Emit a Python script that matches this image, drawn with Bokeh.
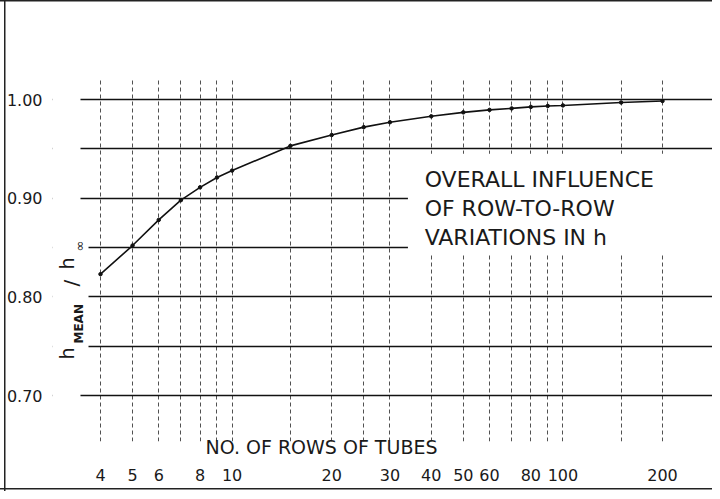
import numpy as np
from bokeh.plotting import figure
from bokeh.models import FixedTicker, Title, Label, BoxAnnotation, Range1d
from bokeh.embed import file_html
from bokeh.resources import INLINE

# ---- data ----
rows = [4, 5, 6, 7, 8, 9, 10, 15, 20, 25, 30, 40, 50, 60, 70, 80, 90, 100, 150, 200]
h_ratio = [0.823, 0.852, 0.878, 0.898, 0.911, 0.921, 0.928, 0.953, 0.964, 0.972,
           0.977, 0.983, 0.987, 0.9895, 0.991, 0.9925, 0.9935, 0.994, 0.997, 0.9985]

x_grid_values = [4, 5, 6, 7, 8, 9, 10, 15, 20, 25, 30, 40, 50, 60, 70, 80, 90, 100, 150, 200]
x_tick_values = [4, 5, 6, 8, 10, 20, 30, 40, 50, 60, 80, 100, 200]
x_tick_labels = ["4", "5", "6", "8", "10", "20", "30", "40", "50", "60", "80", "100", "200"]

y_grid_values = [0.70, 0.75, 0.80, 0.85, 0.90, 0.95, 1.00]
y_tick_values = [0.70, 0.80, 0.90, 1.00]
y_tick_labels = ["0.70", "0.80", "0.90", "1.00"]

note_lines = ["OVERALL INFLUENCE", "OF ROW-TO-ROW", "VARIATIONS IN h"]
x_title = "NO. OF ROWS OF TUBES"

FONT = "DejaVu Sans"
INK = "#1a1a1a"

p = figure(width=712, height=491, x_axis_type="log",
           x_range=Range1d(2.864, 283.3), y_range=Range1d(0.6534, 1.0213),
           output_backend="svg", toolbar_location=None,
           min_border_left=52, min_border_right=0, min_border_top=78, min_border_bottom=50)

p.outline_line_color = None
p.background_fill_color = None
p.border_fill_color = None
p.styles = {
    "background": (
        "linear-gradient(#222,#222) left 4px top 0 / 1.5px 100% no-repeat, "
        "linear-gradient(#222,#222) left 0 top 0 / 100% 1.5px no-repeat, "
        "linear-gradient(#222,#222) left 0 bottom 2px / 100% 1.5px no-repeat"
    )
}

# grids
p.xgrid.ticker = FixedTicker(ticks=x_grid_values)
p.xgrid.grid_line_color = "#333333"
p.xgrid.grid_line_width = 1
p.xgrid.grid_line_dash = "4 3"
p.xgrid.grid_line_alpha = 0.85
p.ygrid.ticker = FixedTicker(ticks=y_grid_values)
p.ygrid.grid_line_color = "#111111"
p.ygrid.grid_line_width = 1.6

# axes
xa = p.xaxis[0]
xa.ticker = FixedTicker(ticks=x_tick_values)
xa.major_label_overrides = dict(zip(x_tick_values, x_tick_labels))
ya = p.yaxis[0]
ya.ticker = FixedTicker(ticks=y_tick_values)
ya.major_label_overrides = dict(zip(y_tick_values, y_tick_labels))
for ax in (xa, ya):
    ax.axis_line_color = None
    ax.major_tick_line_color = None
    ax.minor_tick_line_color = None
    ax.major_label_text_font = FONT
    ax.major_label_text_font_size = "16px"
    ax.major_label_text_color = INK
ya.major_label_standoff = 4
xa.major_label_standoff = 13

xt = Title(text=x_title, align="left", offset=153, text_font=FONT,
           text_font_size="19px", text_font_style="normal", text_color=INK, standoff=-16)
p.below = [xt] + list(p.below)

# blank margin strip left of the grid lines, and the area behind the note
p.add_layout(BoxAnnotation(right=3.48, fill_color="white", fill_alpha=1,
                           line_color=None, level="glyph"))
p.add_layout(BoxAnnotation(right=3.68, bottom=0.74, top=0.86, fill_color="white",
                           fill_alpha=1, line_color=None, level="glyph"))
p.add_layout(BoxAnnotation(left=34, bottom=0.843, top=0.945, fill_color="white",
                           fill_alpha=1, line_color=None, level="glyph"))

# curve
p.line(rows, h_ratio, line_width=1.6, color="#111111")
p.scatter(rows, h_ratio, size=3.5, color="#111111")

# note text
note_y = [0.919, 0.8895, 0.860]
for t, yy in zip(note_lines, note_y):
    p.add_layout(Label(x=38.2, y=yy, text=t, text_font=FONT, text_font_size="22px",
                       text_color=INK, text_baseline="middle", text_align="left"))

# y axis label pieces: h_MEAN / h_inf (rotated)
ylab = [("h", 3.158, 0.7365, "19px", "normal"),
        ("MEAN", 3.444, 0.7527, "12px", "bold"),
        ("/", 3.259, 0.8105, "20px", "normal"),
        ("h", 3.158, 0.8277, "19px", "normal"),
        ("\u221e", 3.468, 0.846, "13px", "normal")]
for t, xx, yy, fs, st in ylab:
    p.add_layout(Label(x=xx, y=yy, text=t, angle=np.pi / 2, text_font=FONT,
                       text_font_size=fs, text_font_style=st, text_color=INK,
                       text_align="left", text_baseline="alphabetic"))

open("out.html", "w").write(file_html(p, INLINE))
